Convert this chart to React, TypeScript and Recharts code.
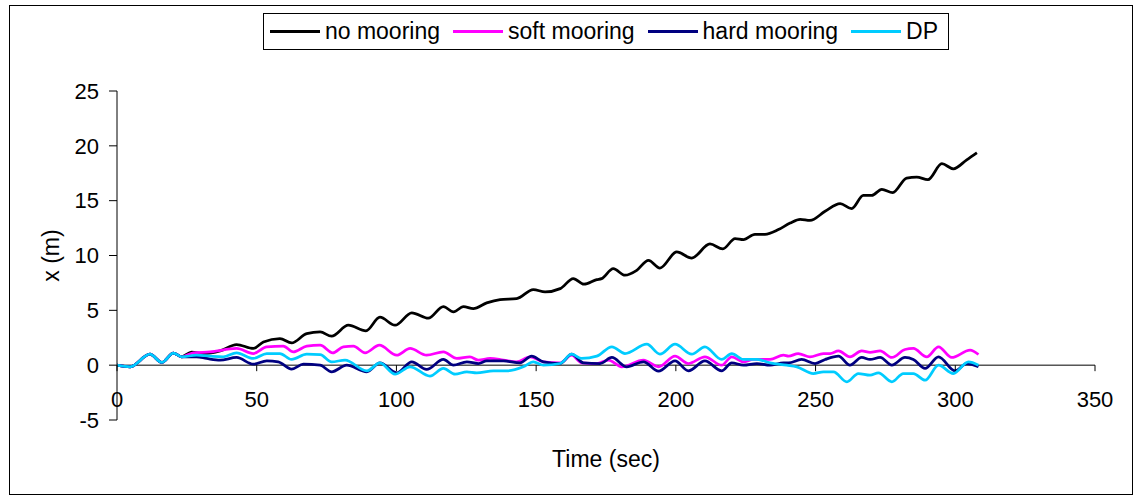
import React from "react";
import { LineChart, Line, XAxis, YAxis, ReferenceLine } from "recharts";

// ---- data (time in s, surge x in m) ----
const noMooring: [number, number][] = [
  [0, 0], [4.7, -0.15], [11.8, 1.0], [16, 0.25], [20.2, 1.1], [23.1, 0.76], [26.7, 1.2], [30.9, 1.06],
  [36.9, 1.3], [42.8, 1.88], [48.8, 1.52], [52.4, 2.12], [58.3, 2.43], [62.5, 2.03], [67.9, 2.88],
  [72.7, 3.03], [76.8, 2.64], [82.8, 3.64], [89.1, 3.13], [94.1, 4.37], [99.5, 3.64], [105.5, 4.77],
  [111.4, 4.28], [116.8, 5.34], [120.4, 4.85], [124, 5.34], [127.5, 5.16], [132.3, 5.68], [137.1, 5.98],
  [143, 6.07], [149, 6.89], [153.2, 6.68], [158.6, 6.98], [163.3, 7.89], [167.1, 7.38], [171.7, 7.8],
  [173.4, 7.89], [177.6, 8.8], [181.8, 8.2], [186, 8.65], [190.2, 9.56], [194.3, 8.86], [200.3, 10.32],
  [205.7, 9.77], [212.2, 11.05], [216.8, 10.6], [221.2, 11.54], [224.2, 11.45], [228.3, 11.93],
  [231.9, 11.93], [236.7, 12.36], [240.9, 12.96], [244.5, 13.3], [248, 13.2], [253.4, 14.03],
  [258.8, 14.73], [262.9, 14.27], [267.1, 15.48], [270.1, 15.48], [273.7, 16.03], [277.6, 15.73],
  [282.6, 17.06], [286.2, 17.15], [290.2, 16.91], [295.2, 18.37], [299.3, 17.91], [304.1, 18.73],
  [307.7, 19.37],
];

const softMooring: [number, number][] = [
  [0, 0], [4.7, -0.15], [11.8, 1.0], [16, 0.25], [20.2, 1.1], [23.1, 0.76], [27.3, 1.12], [33.3, 1.21],
  [42.8, 1.52], [48.8, 1.06], [53.6, 1.67], [59.5, 1.73], [63.1, 1.21], [67.9, 1.73], [72.7, 1.82],
  [77.2, 1.12], [81, 1.67], [84.6, 1.73], [88.8, 1.12], [93.9, 1.82], [100.1, 0.91], [104.9, 1.52],
  [110.8, 0.91], [116.8, 1.21], [121.6, 0.61], [126.3, 0.76], [129.3, 0.46], [133.5, 0.61], [138.3, 0.46],
  [143, 0.3], [147.8, 0.76], [152.6, 0.3], [158.6, 0.21], [162.7, 0.91], [166.3, 0.21], [171.7, 0.15],
  [175.9, 0.46], [180.6, -0.15], [188.4, 0.46], [193.8, -0.15], [199.7, 0.82], [204.5, 0.15],
  [210.4, 0.76], [216.4, 0], [220, 0.76], [224.2, 0.3], [227.7, 0.52], [233.7, 0.52], [238.5, 0.91],
  [240.3, 0.82], [243.8, 1.06], [248, 0.76], [252.8, 1.06], [255.2, 1.06], [258.2, 1.3], [262.3, 0.76],
  [266.5, 1.3], [269.5, 1.16], [273.1, 1.3], [277.3, 0.7], [282, 1.43], [285, 1.52], [289.8, 0.76],
  [294, 1.67], [298.7, 0.7], [305.3, 1.37], [308.3, 0.97],
];

const hardMooring: [number, number][] = [
  [0, 0], [4.7, -0.15], [11.8, 1.0], [16, 0.25], [20.2, 1.1], [23.1, 0.76], [28.5, 0.76], [32.1, 0.61],
  [36.9, 0.46], [42.8, 0.7], [48.8, 0.09], [53.6, 0.39], [57.7, 0.3], [62.5, -0.36], [66.7, 0.09],
  [72.7, 0], [76.8, -0.61], [82.2, 0], [89.4, -0.61], [94.1, 0.21], [100.1, -0.7], [105.5, 0.3],
  [110.8, -0.39], [116.8, 0.52], [120.4, 0], [125.2, 0.3], [129.3, 0.15], [132.3, 0.39], [138.3, 0.39],
  [144.2, 0.21], [148.4, 0.82], [152.6, 0.3], [158.6, 0.15], [162.7, 1.0], [166.9, 0.21], [172.9, 0.15],
  [177.1, 0.7], [182.4, -0.15], [188.4, 0.3], [193.8, -0.55], [199.7, 0.39], [204.5, -0.52],
  [210.4, 0.39], [216.4, -0.52], [220, 0.21], [224.2, 0], [229, 0.15], [233.7, 0], [238.5, 0.21],
  [240.3, 0.21], [245, 0.52], [249.8, 0.15], [253.4, 0.52], [258.2, 0.82], [262.3, 0], [266.5, 0.7],
  [269.5, 0.52], [273.1, 0.7], [277.3, 0], [282, 0.7], [285, 0.52], [289.2, -0.3], [294, 0.76],
  [299.9, -0.52], [304.1, 0.15], [308.3, -0.15],
];

const dp: [number, number][] = [
  [0, 0], [4.7, -0.15], [11.8, 1.0], [16, 0.25], [20.2, 1.1], [23.1, 0.76], [28.5, 0.91], [33.3, 0.82],
  [38, 0.76], [42.8, 1.12], [48.8, 0.61], [53.6, 1.06], [58.3, 1.06], [62.5, 0.52], [67.9, 1.0],
  [72.7, 0.97], [76.8, 0.3], [81.6, 0.46], [89.4, -0.52], [94.1, 0.21], [99.5, -0.82], [104.9, -0.15],
  [112, -1.0], [116.8, -0.3], [121, -0.82], [125.2, -0.61], [128.7, -0.7], [134.7, -0.52], [139.5, -0.52],
  [145.4, -0.15], [149, 0.3], [152.6, 0], [158.6, 0.15], [162.7, 1.0], [166.3, 0.61], [171.7, 0.82],
  [177.1, 1.67], [181.8, 1.06], [189.6, 1.91], [194.3, 1.0], [199.7, 1.91], [205.7, 1.0], [210.4, 1.67],
  [216.4, 0.52], [220, 1.06], [224.2, 0.52], [229, 0.52], [233.7, 0.21], [239.7, 0], [243.3, -0.15],
  [249.2, -0.76], [252.8, -0.61], [256.4, -0.61], [261.2, -1.52], [265.3, -0.76], [269.5, -0.91],
  [272.5, -0.7], [277.3, -1.52], [281.4, -0.76], [285, -0.76], [289.2, -1.37], [294, 0], [299.3, -0.76],
  [304.7, 0.3], [308.3, 0],
];

const xTicks = [0, 50, 100, 150, 200, 250, 300, 350];
const yTicks = [-5, 0, 5, 10, 15, 20, 25];

const seriesNames = ["no mooring", "soft mooring", "hard mooring", "DP"];
const seriesColors = ["#000000", "#FF00FF", "#000080", "#00CCFF"];
const seriesData = [noMooring, softMooring, hardMooring, dp];

// ---- layout ----
const W = 1139;
const H = 497;
const PLOT = { left: 117, right: 1095, top: 91, bottom: 420 };
const Y_AXIS_W = 108;
const X_AXIS_H = 70;
const X_DOMAIN: [number, number] = [0, 350];
const Y_DOMAIN: [number, number] = [-5, 25];
const FONT = "'Liberation Sans', Arial, sans-serif";

// pixel row of y = 0 inside the plot (where the x axis crosses)
const Y0 =
  PLOT.top + ((Y_DOMAIN[1] - 0) / (Y_DOMAIN[1] - Y_DOMAIN[0])) * (PLOT.bottom - PLOT.top);

const toRows = (pts: [number, number][]) => pts.map(([t, x]) => ({ t, x }));

const XTick = (props: any) => {
  const { x, payload } = props;
  return (
    <g>
      <line x1={x} x2={x} y1={Y0} y2={Y0 + 6} stroke="#000" strokeWidth={1} />
      <text x={x} y={Y0 + 42} textAnchor="middle" fontSize={22} fontFamily={FONT} fill="#000">
        {payload.value}
      </text>
    </g>
  );
};

const XTitle = (props: any) => {
  const vb = props.viewBox || {};
  return (
    <text
      x={vb.x + vb.width / 2}
      y={vb.y + 47}
      textAnchor="middle"
      fontSize={23}
      fontFamily={FONT}
      fill="#000"
    >
      Time (sec)
    </text>
  );
};

const YTitle = (props: any) => {
  const vb = props.viewBox || {};
  const cx = vb.x + 42;
  const cy = vb.y + vb.height / 2;
  return (
    <text
      x={cx}
      y={cy}
      textAnchor="middle"
      dominantBaseline="central"
      transform={`rotate(-90, ${cx}, ${cy})`}
      fontSize={23}
      fontFamily={FONT}
      fill="#000"
    >
      x (m)
    </text>
  );
};

export default function App() {
  return (
    <div style={{ position: "absolute", left: 0, top: 0, width: W, height: H, background: "#fff" }}>
      <div
        style={{
          position: "absolute",
          left: 9,
          top: 5,
          width: 1124,
          height: 490,
          border: "1px solid #000",
          boxSizing: "border-box",
        }}
      />
      <div style={{ position: "absolute", left: 0, top: 0 }}>
        <LineChart
          width={W}
          height={H}
          margin={{
            top: PLOT.top,
            right: W - PLOT.right,
            bottom: H - PLOT.bottom - X_AXIS_H,
            left: PLOT.left - Y_AXIS_W,
          }}
        >
          <XAxis
            dataKey="t"
            type="number"
            domain={X_DOMAIN}
            ticks={xTicks}
            allowDataOverflow
            axisLine={false}
            tickLine={false}
            tick={<XTick />}
            height={X_AXIS_H}
            interval={0}
            label={{ content: <XTitle /> }}
          />
          <YAxis
            type="number"
            domain={Y_DOMAIN}
            ticks={yTicks}
            allowDataOverflow
            width={Y_AXIS_W}
            interval={0}
            axisLine={{ stroke: "#000", strokeWidth: 1 }}
            tickLine={{ stroke: "#000", strokeWidth: 1 }}
            tickSize={8}
            tickMargin={10}
            tick={{ fill: "#000", fontSize: 22, fontFamily: FONT }}
            label={{ content: <YTitle /> }}
          />
          <ReferenceLine y={0} stroke="#000" strokeWidth={1} ifOverflow="extendDomain" />
          {seriesData.map((pts, i) => (
            <Line
              key={seriesNames[i]}
              name={seriesNames[i]}
              data={toRows(pts)}
              dataKey="x"
              type="monotone"
              stroke={seriesColors[i]}
              strokeWidth={2.75}
              dot={false}
              activeDot={false}
              isAnimationActive={false}
            />
          ))}
        </LineChart>
      </div>
      <div
        style={{
          position: "absolute",
          left: PLOT.left,
          top: 13,
          width: PLOT.right - PLOT.left,
          display: "flex",
          justifyContent: "center",
        }}
      >
        <div
          style={{
            display: "flex",
            alignItems: "center",
            height: 37,
            boxSizing: "border-box",
            border: "1px solid #000",
            padding: "0 10px 0 6px",
            background: "#fff",
            fontFamily: FONT,
            fontSize: 23,
            color: "#000",
            whiteSpace: "nowrap",
          }}
        >
          {seriesNames.map((n, i) => (
            <div
              key={n}
              style={{
                display: "flex",
                alignItems: "center",
                marginRight: i < seriesNames.length - 1 ? 13 : 0,
              }}
            >
              <span
                style={{ display: "inline-block", width: 50, height: 3, background: seriesColors[i] }}
              />
              <span style={{ marginLeft: 5 }}>{n}</span>
            </div>
          ))}
        </div>
      </div>
    </div>
  );
}
